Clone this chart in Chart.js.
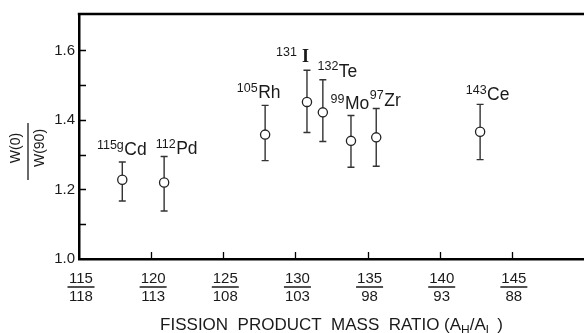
<!DOCTYPE html>
<html>
<head>
<meta charset="utf-8">
<script src="https://cdn.jsdelivr.net/npm/chart.js@4.4.0/dist/chart.umd.min.js"></script>
<style>
  html, body { margin: 0; padding: 0; background: #fff; }
</style>
</head>
<body>
<canvas id="myChart" width="584" height="333"></canvas>
<script>
// Fission products: mass ratio A_H/A_L on x, W(0)/W(90) on y
var massNumbers = ["115g", "112", "105", "131", "132", "99", "97", "143"];
var elements = ["Cd", "Pd", "Rh", "I", "Te", "Mo", "Zr", "Ce"];
var massRatio = [118.0, 120.9, 127.9, 130.8, 131.9, 133.85, 135.6, 142.8];
var anisotropy = [1.228, 1.220, 1.358, 1.452, 1.422, 1.340, 1.350, 1.366];
var errHigh = [1.279, 1.295, 1.442, 1.543, 1.516, 1.413, 1.433, 1.445];
var errLow = [1.167, 1.138, 1.283, 1.364, 1.338, 1.264, 1.267, 1.286];

// tick labels, heavy over light
var heavyTicks = [115, 120, 125, 130, 135, 140, 145];
var lightTicks = [118, 113, 108, 103, 98, 93, 88];
var yLabelTicks = [1.0, 1.2, 1.4, 1.6];

// where each isotope label sits relative to its error bar top (px)
var labelNudge = [[2, 7], [12, 2], [-7, 7], [-5, 8], [16, 3], [-6, 6], [8, 3], [7, 4]];

var ink = "#1a1a1a";
var sans = "'Liberation Sans', Arial, sans-serif";

var points = [];
for (var i = 0; i < massRatio.length; i++) {
  points.push({ x: massRatio[i], y: anisotropy[i] });
}

// error bars go under the circles
var errorBars = {
  id: "errorBars",
  beforeDatasetsDraw: function(chart) {
    var ctx = chart.ctx, xs = chart.scales.x, ys = chart.scales.y;
    ctx.save();
    ctx.strokeStyle = "#333";
    ctx.lineWidth = 1.4;
    for (var i = 0; i < massRatio.length; i++) {
      var px = xs.getPixelForValue(massRatio[i]);
      var top = ys.getPixelForValue(errHigh[i]);
      var bot = ys.getPixelForValue(errLow[i]);
      ctx.beginPath();
      ctx.moveTo(px, top); ctx.lineTo(px, bot);
      ctx.moveTo(px - 3.5, top); ctx.lineTo(px + 3.5, top);
      ctx.moveTo(px - 3.5, bot); ctx.lineTo(px + 3.5, bot);
      ctx.stroke();
    }
    ctx.restore();
  }
};

// frame, inward ticks, fraction bars, titles and isotope labels
var decorations = {
  id: "decorations",
  afterDraw: function(chart) {
    var ctx = chart.ctx, xs = chart.scales.x, ys = chart.scales.y;
    var area = chart.chartArea;
    ctx.save();
    ctx.strokeStyle = "#000";

    // top line
    ctx.lineWidth = 2.5;
    ctx.beginPath();
    ctx.moveTo(area.left - 1.2, area.top);
    ctx.lineTo(chart.width, area.top);
    ctx.stroke();

    // inward ticks
    ctx.lineWidth = 1.3;
    ctx.beginPath();
    for (var v = 1.1; v < 1.65; v += 0.1) {
      var py = Math.round(ys.getPixelForValue(v)) + 0.5;
      ctx.moveTo(area.left, py); ctx.lineTo(area.left + 7, py);
    }
    for (var k = 1; k < heavyTicks.length; k++) {
      var px = Math.round(xs.getPixelForValue(heavyTicks[k])) + 0.5;
      ctx.moveTo(px, area.bottom); ctx.lineTo(px, area.bottom - 7);
    }
    ctx.stroke();

    // fraction bars in x tick labels
    ctx.strokeStyle = ink;
    ctx.lineWidth = 1.5;
    ctx.beginPath();
    for (var k = 0; k < heavyTicks.length; k++) {
      var cx = xs.getPixelForValue(heavyTicks[k]) + 2;
      ctx.moveTo(cx - 13.5, area.bottom + 28);
      ctx.lineTo(cx + 13.5, area.bottom + 28);
    }
    ctx.stroke();

    // x title with subscripts
    ctx.fillStyle = ink;
    ctx.textBaseline = "alphabetic";
    ctx.textAlign = "left";
    var big = "17px " + sans, small = "12px " + sans;
    var parts = [["FISSION  PRODUCT  MASS  RATIO (A", big, 0], ["H", small, 4], ["/A", big, 0], ["L", small, 4], [" )", big, 0]];
    var total = 0;
    parts.forEach(function(p) { ctx.font = p[1]; total += ctx.measureText(p[0]).width; });
    var tx = (area.left + area.right) / 2 - total / 2;
    parts.forEach(function(p) {
      ctx.font = p[1];
      ctx.fillText(p[0], tx, 330 + p[2]);
      tx += ctx.measureText(p[0]).width;
    });

    // y title: W(0) over W(90), rotated
    ctx.save();
    ctx.translate(28, 148);
    ctx.rotate(-Math.PI / 2);
    ctx.font = "14px " + sans;
    ctx.textAlign = "center";
    ctx.textBaseline = "middle";
    ctx.fillText("W(0)", 0, -12);
    ctx.fillText("W(90)", 0, 12);
    ctx.lineWidth = 1.3;
    ctx.beginPath();
    ctx.moveTo(-32, 0); ctx.lineTo(25, 0);
    ctx.stroke();
    ctx.restore();

    // isotope labels
    ctx.textBaseline = "alphabetic";
    for (var i = 0; i < elements.length; i++) {
      var sx = xs.getPixelForValue(massRatio[i]) + labelNudge[i][0];
      var base = ys.getPixelForValue(errHigh[i]) - labelNudge[i][1];
      ctx.textAlign = "left";
      ctx.font = elements[i] === "I" ? "bold 18px 'Liberation Serif', serif" : "17.5px " + sans;
      ctx.fillText(elements[i], sx, base);
      ctx.textAlign = "right";
      ctx.font = "12.5px " + sans;
      ctx.fillText(massNumbers[i], sx - (elements[i] === "I" ? 5 : 0.5), base - 6.5);
    }
    ctx.restore();
  }
};

var ctx = document.getElementById("myChart");

var myChart = new Chart(ctx, {
  type: "scatter",
  data: {
    datasets: [{
      data: points,
      pointStyle: "circle",
      pointRadius: 4.6,
      pointBackgroundColor: "#fff",
      pointBorderColor: "#222",
      pointBorderWidth: 1.3
    }]
  },
  options: {
    responsive: false,
    animation: false,
    events: [],
    layout: { autoPadding: false, padding: { top: 14, right: 0, left: 0, bottom: 0 } },
    plugins: { legend: { display: false }, tooltip: { enabled: false } },
    scales: {
      x: {
        type: "linear",
        min: 115,
        max: 150,
        afterFit: function(s) { s.height = 74; s.paddingRight = 0; s.paddingLeft = 0; },
        grid: { display: true, drawOnChartArea: false, drawTicks: false },
        border: { display: true, color: "#000", width: 2.5 },
        ticks: {
          stepSize: 5,
          autoSkip: false,
          maxRotation: 0,
          padding: 11,
          labelOffset: 2,
          color: ink,
          font: { family: sans, size: 15, lineHeight: 1.2 },
          callback: function(v) {
            var idx = heavyTicks.indexOf(v);
            if (idx < 0) return "";
            return [String(heavyTicks[idx]), String(lightTicks[idx])];
          }
        }
      },
      y: {
        min: 1.0,
        max: 1.705,
        afterFit: function(s) { s.width = 79; },
        grid: { display: true, drawOnChartArea: false, drawTicks: false },
        border: { display: true, color: "#000", width: 2.5 },
        ticks: {
          stepSize: 0.1,
          padding: 4,
          color: ink,
          font: { family: sans, size: 15 },
          callback: function(v) {
            for (var j = 0; j < yLabelTicks.length; j++) {
              if (Math.abs(v - yLabelTicks[j]) < 0.001) return yLabelTicks[j].toFixed(1);
            }
            return "";
          }
        }
      }
    }
  },
  plugins: [errorBars, decorations]
});
</script>
</body>
</html>
